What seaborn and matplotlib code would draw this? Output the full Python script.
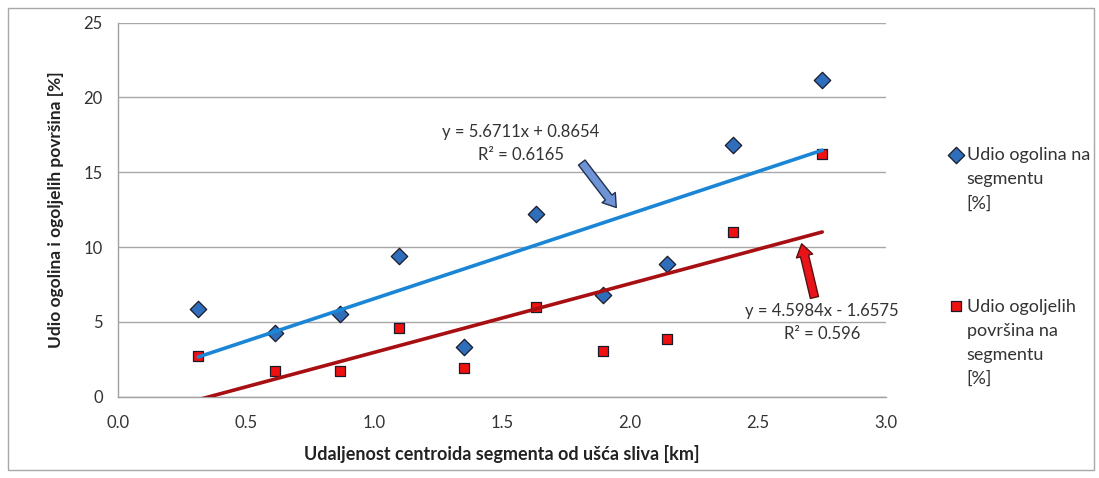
import matplotlib
matplotlib.use('Agg')
import matplotlib.pyplot as plt
from matplotlib.patches import Rectangle
import seaborn as sns
import pandas as pd

# values
distance_km = [0.314, 0.613, 0.867, 1.098, 1.353, 1.632, 1.893, 2.146, 2.404, 2.751]
ogolina_pct = [5.85, 4.23, 5.56, 9.38, 3.33, 12.2, 6.78, 8.89, 16.83, 21.18]
ogoljele_pct = [2.71, 1.73, 1.73, 4.60, 1.91, 6.00, 3.07, 3.89, 11.03, 16.23]

label_blue = 'Udio ogolina na\nsegmentu\n[%]'
label_red = 'Udio ogoljelih\npovršina na\nsegmentu\n[%]'
eq_blue = 'y = 5.6711x + 0.8654\nR² = 0.6165'
eq_red = 'y = 4.5984x - 1.6575\nR² = 0.596'

x_ticks = [0.0, 0.5, 1.0, 1.5, 2.0, 2.5, 3.0]
y_ticks = [0, 5, 10, 15, 20, 25]

df = pd.DataFrame({'x': distance_km, 'blue': ogolina_pct, 'red': ogoljele_pct})

sns.set_style('white')
plt.rcParams['font.family'] = ['Lato', 'DejaVu Sans']

fig = plt.figure(figsize=(10.99, 4.78), dpi=100)
ax = fig.add_axes([118 / 1099, 1 - 396.7 / 478, 768 / 1099, 374 / 478])

blue_fill = '#2F6EBA'
red_fill = '#F01010'
edge = '#1A1A2A'

sns.scatterplot(data=df, x='x', y='blue', marker='D', s=70, color=blue_fill,
                edgecolor=edge, linewidth=0.9, ax=ax, zorder=3, label=label_blue)
sns.scatterplot(data=df, x='x', y='red', marker='s', s=60, color=red_fill,
                edgecolor=edge, linewidth=0.9, ax=ax, zorder=3, label=label_red)

# linear trend lines
sns.regplot(data=df, x='x', y='blue', scatter=False, ci=None, ax=ax,
            line_kws={'color': '#1C86D6', 'lw': 2.6, 'zorder': 4})
sns.regplot(data=df, x='x', y='red', scatter=False, ci=None, ax=ax,
            line_kws={'color': '#A80F12', 'lw': 2.6, 'zorder': 4})

ax.set_xlim(0, 3)
ax.set_ylim(0, 25)
ax.set_xticks(x_ticks)
ax.set_xticklabels([f'{v:.1f}' for v in x_ticks])
ax.set_yticks(y_ticks)
ax.grid(axis='y', color='#A8A8A8', lw=1)
ax.set_axisbelow(True)
for s in ['top', 'right']:
    ax.spines[s].set_visible(False)
for s in ['left', 'bottom']:
    ax.spines[s].set_color('#A0A0A0')
    ax.spines[s].set_linewidth(1)
ax.tick_params(axis='both', direction='out', length=5, width=1, color='#A0A0A0',
               labelsize=12, labelcolor='#333333', pad=6)
ax.tick_params(axis='x', pad=8)

ax.set_xlabel('Udaljenost centroida segmenta od ušća sliva [km]', fontsize=13,
              fontweight='bold', color='#222222', labelpad=10)
ax.set_ylabel('Udio ogolina i ogoljelih površina [%]', fontsize=12.5,
              fontweight='bold', color='#222222', labelpad=14)

# equation labels with arrows
arrow_style = 'simple,head_length=0.9,head_width=1.2,tail_width=0.6'
ax.text(1.574, 16.95, eq_blue, ha='center', va='center', fontsize=12,
        color='#333333', linespacing=1.55)
ax.annotate('', xy=(1.953, 12.5), xytext=(1.805, 15.8),
            arrowprops=dict(arrowstyle=arrow_style, fc='#6E94D6', ec='#22304F', lw=1.0))
ax.text(2.75, 4.95, eq_red, ha='center', va='center', fontsize=12,
        color='#333333', linespacing=1.55, clip_on=False)
ax.annotate('', xy=(2.668, 10.4), xytext=(2.723, 6.45),
            arrowprops=dict(arrowstyle=arrow_style, fc='#E8141A', ec='#5A1010', lw=1.0))

leg = ax.legend(loc='upper left', bbox_to_anchor=(1.058, 0.71), frameon=False,
                fontsize=13, labelspacing=4.8, handletextpad=0.1, handlelength=1.0,
                labelcolor='#333333')
for t in leg.get_texts():
    t.set_linespacing(1.62)
# put the marker next to the first line of each label
for col in leg._legend_handle_box.get_children():
    for item in col.get_children():
        item.align = 'top'

fig.patches.append(Rectangle((8 / 1099, 8 / 478), 1086 / 1099, 462 / 478,
                             transform=fig.transFigure, fill=False,
                             ec='#A8A8A8', lw=1))

fig.savefig('out.png', dpi=100)
